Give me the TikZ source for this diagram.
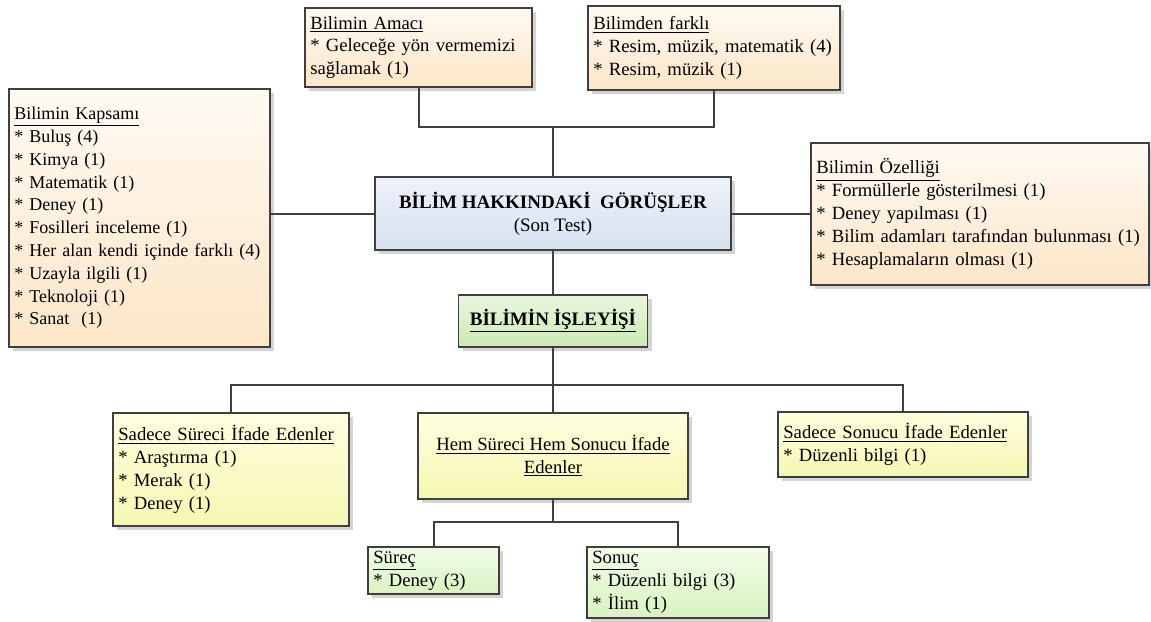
\documentclass[tikz,border=0pt]{standalone}
\usepackage{fontspec}
\setmainfont{Liberation Serif}
\usetikzlibrary{shadows}

\definecolor{edge}{HTML}{3F3F3F}
\definecolor{linkgray}{HTML}{404040}
\definecolor{tanTop}{HTML}{FFFAF3}
\definecolor{tanBot}{HTML}{FCE6C7}
\definecolor{blueTop}{HTML}{EEF2FA}
\definecolor{blueBot}{HTML}{D6E1EF}
\definecolor{greenTop}{HTML}{EAF6DE}
\definecolor{greenBot}{HTML}{CBEAB2}
\definecolor{yelTop}{HTML}{FFFFDF}
\definecolor{yelBot}{HTML}{F6F6B2}
\definecolor{limeTop}{HTML}{F2FCE8}
\definecolor{limeBot}{HTML}{D8F4C0}

\begin{document}
\begin{tikzpicture}[x=0.75pt, y=-0.75pt,
  every node/.style={font=\fontsize{14pt}{17.1pt}\selectfont},
  card/.style={draw=edge, line width=0.8pt, inner xsep=4pt, inner ysep=1pt,
    align=left,
    drop shadow={shadow xshift=3pt, shadow yshift=-3pt, fill=black!17, opacity=1}},
  tancard/.style={card, top color=tanTop, bottom color=tanBot},
  bluecard/.style={card, top color=blueTop, bottom color=blueBot, align=center},
  greencard/.style={card, top color=greenTop, bottom color=greenBot, align=center},
  yelcard/.style={card, top color=yelTop, bottom color=yelBot},
  limecard/.style={card, top color=limeTop, bottom color=limeBot},
  link/.style={draw=linkgray, line width=1.5pt}]
\useasboundingbox (0,0) rectangle (1151,621);

% centre topic
\node[bluecard, font=\fontsize{14.25pt}{17.1pt}\selectfont,
  minimum width=267pt, minimum height=54.75pt] (main) at (553,213.5)
  {\textbf{BİLİM HAKKINDAKİ\ \ GÖRÜŞLER}\\(Son Test)};

% upper branches
\node[tancard, text width=162.25pt, minimum height=59.25pt] (amac) at (418.5,47.5)
  {\underline{Bilimin Amacı}\\{}* Geleceğe yön vermemizi\\sağlamak (1)};
\node[tancard, text width=181pt, minimum height=63pt] (farkli) at (714,48)
  {\underline{Bilimden farklı}\\\mbox{* Resim, müzik, matematik (4)}\\{}* Resim, müzik (1)};

% side branches
\node[tancard, font=\fontsize{13.5pt}{17.1pt}\selectfont,
  text width=187.75pt, minimum height=193.5pt] (kapsam) at (139.5,218)
  {\underline{Bilimin Kapsamı}\\{}* Buluş (4)\\{}* Kimya (1)\\{}* Matematik (1)\\{}* Deney (1)\\{}* Fosilleri inceleme (1)\\\mbox{* Her alan kendi içinde farklı (4)}\\{}* Uzayla ilgili (1)\\{}* Teknoloji (1)\\{}* Sanat\ \ (1)};
\node[tancard, text width=245.5pt, minimum height=106.5pt] (ozel) at (980,214)
  {\underline{Bilimin Özelliği}\\{}* Formüllerle gösterilmesi (1)\\{}* Deney yapılması (1)\\\mbox{* Bilim adamları tarafından bulunması (1)}\\{}* Hesaplamaların olması (1)};

% process of science
\node[greencard, font=\fontsize{14.25pt}{17.1pt}\selectfont,
  minimum width=141.75pt, minimum height=39pt] (isleyis) at (553,321)
  {\textbf{\underline{BİLİMİN İŞLEYİŞİ}}};

\node[yelcard, text width=169pt, minimum height=84.75pt] (surecx) at (231,469.5)
  {\underline{Sadece Süreci İfade Edenler}\\{}* Araştırma (1)\\{}* Merak (1)\\{}* Deney (1)};
\node[yelcard, align=center, minimum width=202.5pt, minimum height=64.5pt] (hem) at (553,456)
  {\underline{Hem Süreci Hem Sonucu İfade}\\\underline{Edenler}};
\node[yelcard, text width=179.5pt, minimum height=48.75pt] (sonucx) at (903,444.5)
  {\underline{Sadece Sonucu İfade Edenler}\\{}* Düzenli bilgi (1)};

\node[limecard, text width=90.25pt, minimum height=35.25pt] (surec) at (433.5,570.5)
  {\underline{Süreç}\\{}* Deney (3)};
\node[limecard, text width=128.5pt, minimum height=53.25pt] (sonuc) at (678,582.5)
  {\underline{Sonuç}\\{}* Düzenli bilgi (3)\\{}* İlim (1)};

% connectors
\coordinate (topbus) at (553,127);
\coordinate (midbus) at (553,385);
\coordinate (lowbus) at (553,522);

\draw[link] (amac.south) |- (topbus) -- (main.north);
\draw[link] (farkli.south) |- (topbus);
\draw[link] (main.west) -- (main.west -| kapsam.east);
\draw[link] (main.east) -- (main.east -| ozel.west);
\draw[link] (main.south) -- (isleyis.north);
\draw[link] (isleyis.south) -- (midbus) -- (hem.north);
\draw[link] (surecx.north) |- (midbus);
\draw[link] (sonucx.north) |- (midbus);
\draw[link] (hem.south) -- (lowbus);
\draw[link] (surec.north) |- (lowbus);
\draw[link] (sonuc.north) |- (lowbus);
\end{tikzpicture}
\end{document}
